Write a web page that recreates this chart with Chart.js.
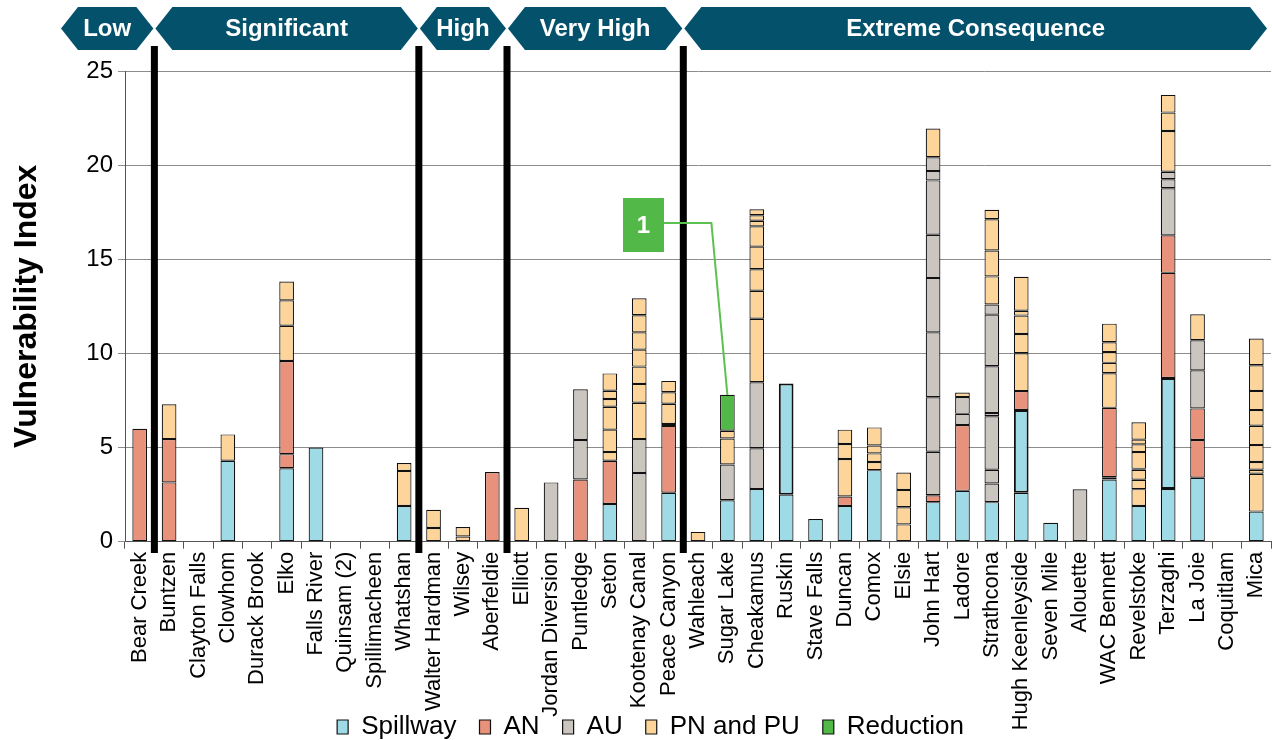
<!DOCTYPE html>
<html>
<head>
<meta charset="utf-8">
<script src="https://cdn.jsdelivr.net/npm/chart.js@4/dist/chart.umd.min.js"></script>
<style>
  html, body { margin: 0; padding: 0; background: #ffffff; }
  canvas { display: block; }
</style>
</head>
<body>
<canvas id="chart" width="1272" height="740"></canvas>
<script>
// Facilities, ordered by consequence class
const categories = [
  'Bear Creek', 'Buntzen', 'Clayton Falls', 'Clowhom', 'Durack Brook', 'Elko', 'Falls River',
  'Quinsam (2)', 'Spillimacheen', 'Whatshan', 'Walter Hardman', 'Wilsey', 'Aberfeldie', 'Elliott',
  'Jordan Diversion', 'Puntledge', 'Seton', 'Kootenay Canal', 'Peace Canyon', 'Wahleach',
  'Sugar Lake', 'Cheakamus', 'Ruskin', 'Stave Falls', 'Duncan', 'Comox', 'Elsie', 'John Hart',
  'Ladore', 'Strathcona', 'Hugh Keenleyside', 'Seven Mile', 'Alouette', 'WAC Bennett',
  'Revelstoke', 'Terzaghi', 'La Joie', 'Coquitlam', 'Mica'
];

// Each facility's contribution per component, listed bottom-up as individual items
const spillway = [
  [], [], [], [4.3], [], [3.9], [5.0], [], [], [1.9],
  [], [], [], [], [], [], [2.0], [], [2.6], [],
  [2.2], [2.8], [2.5, 5.9], [1.2], [1.9], [3.8], [], [2.1], [2.7], [2.1],
  [2.6, 4.4], [1.0], [], [3.3], [1.9], [2.8, 5.9], [3.4], [], [1.6]
];
const an = [
  [6.0], [3.15, 2.3], [], [], [], [0.75, 4.95], [], [], [], [],
  [], [], [3.7], [], [], [3.3], [2.3], [], [3.55, 0.1], [],
  [], [], [], [], [0.5], [], [], [0.37], [3.5], [],
  [1.0], [], [], [0.12, 3.69], [], [5.58, 1.99], [2.0, 1.68], [], []
];
const au = [
  [], [], [], [], [], [], [], [], [], [],
  [], [], [], [], [3.15], [2.1, 2.7], [], [3.65, 1.8], [], [],
  [1.9], [2.16, 3.51], [], [], [], [], [], [2.31, 2.89, 3.45, 2.88, 2.3, 2.89, 0.5, 0.73], [0.59, 0.89], [0.99, 0.73, 2.84, 0.17, 2.49, 2.74, 0.54],
  [], [], [2.78], [], [], [2.5, 0.48, 0.4], [2.02, 1.6], [], []
];
const pnpu = [
  [], [1.85], [], [1.4], [], [1.87, 1.35, 1.0], [], [], [], [1.86, 0.42],
  [0.73, 0.97], [0.28, 0.5], [], [1.8], [], [], [0.46, 1.19, 1.22, 0.41, 0.44, 0.92], [1.93, 1.0, 0.92, 0.9, 0.92, 0.91, 0.9], [1.08, 0.61, 0.6], [0.52],
  [1.38, 0.41], [3.37, 1.49, 1.14, 1.2, 1.08, 0.3, 0.29, 0.32], [], [], [1.99, 0.8, 0.76], [0.43, 0.46, 0.42, 0.96], [0.92, 0.91, 0.92, 0.92], [1.52], [0.24], [1.49, 1.38, 1.66, 0.5],
  [2.01, 1.02, 0.98, 0.26, 1.8], [], [], [1.84, 0.55, 0.57, 0.52, 0.99], [0.89, 0.5, 0.53, 0.05, 0.89, 0.41, 0.25, 0.92], [2.16, 0.98, 0.94], [1.38], [], [2.01, 0.21, 0.41, 0.9, 1.03, 0.83, 1.02, 1.36, 1.42]
];
const reduction = [
  [], [], [], [], [], [], [], [], [], [],
  [], [], [], [], [], [], [], [], [], [],
  [1.91], [], [], [], [], [], [], [], [], [],
  [], [], [], [], [], [], [], [], []
];

const yTicks = [0, 5, 10, 15, 20, 25];

// Consequence classes and the first facility index of each
const bandNames = ['Low', 'Significant', 'High', 'Very High', 'Extreme Consequence'];
const bandStarts = [0, 1, 10, 13, 19];

// Callout marker and the facility it points at
const calloutText = '1';
const calloutIndex = 20;

const components = [
  { label: 'Spillway',  color: '#9edbe7', segs: spillway },
  { label: 'AN',        color: '#e8927b', segs: an },
  { label: 'AU',        color: '#cbc5bf', segs: au },
  { label: 'PN and PU', color: '#fdd59b', segs: pnpu },
  { label: 'Reduction', color: '#52b847', segs: reduction }
];

const datasets = [];
components.forEach(comp => {
  const depth = Math.max(...comp.segs.map(s => s.length));
  for (let k = 0; k < depth; k++) {
    datasets.push({
      label: comp.label,
      legendEntry: k === 0,
      data: comp.segs.map(s => (s[k] === undefined ? null : s[k])),
      backgroundColor: comp.color,
      borderColor: '#111111',
      borderWidth: (comp.label === 'Spillway' && k === 1) ? 2 : 1.2,
      borderSkipped: false,
      barPercentage: 0.5,
      categoryPercentage: 1.0,
      stack: 'total'
    });
  }
});

const FONT = "'Liberation Sans', Arial, Helvetica, sans-serif";

function boundaryX(xs, i) {
  if (i <= 0) return xs.getPixelForValue(0) - (xs.getPixelForValue(1) - xs.getPixelForValue(0)) / 2;
  return (xs.getPixelForValue(i - 1) + xs.getPixelForValue(i)) / 2;
}

// Let the long rotated category names run past the axis box, and nudge the legend right
const labelRoom = {
  id: 'labelRoom',
  afterLayout(chart) {
    chart.scales.x.bottom = chart.height;
    chart.legend.left += 30;
  }
};

// Thick separators between consequence classes
const separators = {
  id: 'separators',
  afterDatasetsDraw(chart) {
    const { ctx, scales: { x } } = chart;
    ctx.save();
    ctx.fillStyle = '#000000';
    bandStarts.slice(1).forEach(i => {
      const bx = boundaryX(x, i);
      ctx.fillRect(bx - 3.5, 46, 7, 507);
    });
    ctx.restore();
  }
};

// Chevron banners naming each consequence class
const banners = {
  id: 'banners',
  afterDraw(chart) {
    const { ctx, scales: { x }, chartArea } = chart;
    const yt = 7, yb = 50, ym = (yt + yb) / 2, d = 17;
    ctx.save();
    bandNames.forEach((name, b) => {
      const xl = b === 0 ? chartArea.left - 64 : boundaryX(x, bandStarts[b]) + 1;
      const xr = b === bandNames.length - 1 ? chartArea.right - 4 : boundaryX(x, bandStarts[b + 1]) - 1;
      ctx.beginPath();
      ctx.moveTo(xl, ym);
      ctx.lineTo(xl + d, yt);
      ctx.lineTo(xr - d, yt);
      ctx.lineTo(xr, ym);
      ctx.lineTo(xr - d, yb);
      ctx.lineTo(xl + d, yb);
      ctx.closePath();
      ctx.fillStyle = '#04516c';
      ctx.fill();
      ctx.fillStyle = '#ffffff';
      ctx.font = 'bold 24px ' + FONT;
      ctx.textAlign = 'center';
      ctx.textBaseline = 'middle';
      ctx.fillText(name, (xl + xr) / 2, ym + 1);
    });
    ctx.restore();
  }
};

// Numbered callout linked to the top of a bar
const callout = {
  id: 'callout',
  afterDraw(chart) {
    const { ctx, scales: { x, y } } = chart;
    const total = datasets.reduce((s, ds) => s + (ds.data[calloutIndex] || 0), 0);
    const tx = x.getPixelForValue(calloutIndex);
    const ty = y.getPixelForValue(total);
    const bx = 623, by = 198, bw = 41, bh = 54;
    ctx.save();
    ctx.strokeStyle = '#5cc150';
    ctx.lineWidth = 2;
    ctx.beginPath();
    ctx.moveTo(bx + bw, by + bh / 2 - 2);
    ctx.lineTo(tx - 16, by + bh / 2 - 2);
    ctx.lineTo(tx, ty);
    ctx.stroke();
    ctx.fillStyle = '#52b847';
    ctx.fillRect(bx, by, bw, bh);
    ctx.fillStyle = '#ffffff';
    ctx.font = 'bold 24px ' + FONT;
    ctx.textAlign = 'center';
    ctx.textBaseline = 'middle';
    ctx.fillText(calloutText, bx + bw / 2, by + bh / 2 + 1);
    ctx.restore();
  }
};

Chart.defaults.font.family = FONT;
Chart.defaults.color = '#000000';

new Chart(document.getElementById('chart'), {
  type: 'bar',
  data: { labels: categories, datasets },
  options: {
    responsive: false,
    animation: false,
    layout: { padding: { top: 71, right: 1, left: 0, bottom: -10 } },
    plugins: {
      tooltip: { enabled: false },
      legend: {
        position: 'bottom',
        labels: {
          filter: (item, data) => data.datasets[item.datasetIndex].legendEntry,
          font: { size: 26 },
          color: '#000000',
          boxWidth: 11,
          boxHeight: 14,
          padding: 23
        }
      }
    },
    scales: {
      x: {
        stacked: true,
        grid: { offset: true, drawOnChartArea: false, drawTicks: true, tickLength: 7, color: '#555555' },
        border: { display: true, color: '#555555', width: 1 },
        ticks: { autoSkip: false, minRotation: 90, maxRotation: 90, font: { size: 22 }, color: '#000000', padding: 3 },
        afterFit(scale) {
          scale.height = 149.3;
          scale.paddingLeft = 0;
          scale.paddingRight = 0;
        }
      },
      y: {
        stacked: true,
        min: 0,
        max: 25,
        afterBuildTicks(scale) { scale.ticks = yTicks.map(v => ({ value: v })); },
        grid: { color: '#8c8c8c', lineWidth: 1, tickLength: 7, drawTicks: true },
        border: { display: true, color: '#555555', width: 1 },
        ticks: { font: { size: 24 }, color: '#000000', padding: 5 },
        title: {
          display: true,
          text: 'Vulnerability Index',
          font: { size: 32, weight: 'bold', lineHeight: 1.2 },
          color: '#000000',
          padding: { top: 8, bottom: 0 }
        },
        afterFit(scale) { scale.width = 125; }
      }
    }
  },
  plugins: [labelRoom, separators, banners, callout]
});
</script>
</body>
</html>
